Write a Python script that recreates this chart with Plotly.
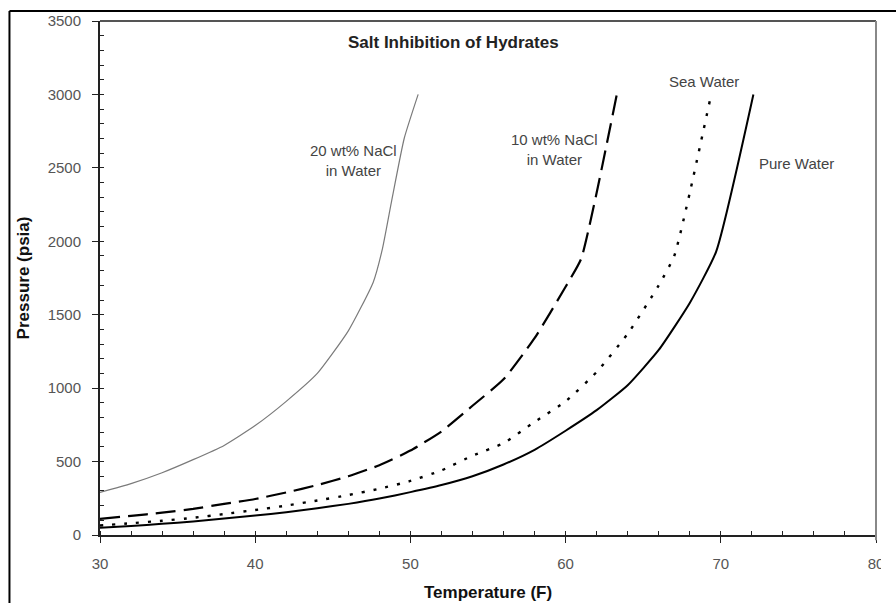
import plotly.graph_objects as go

# ---- data ----
pure_T = [30, 32, 34, 36, 38, 40, 42, 44, 46, 48, 50, 52, 54, 56, 58, 60, 62, 64, 66, 68, 69.7, 72.1]
pure_P = [50, 62, 76, 92, 112, 132, 155, 182, 212, 248, 292, 340, 400, 480, 580, 710, 850, 1020, 1260, 1580, 1930, 3000]

sea_T = [30, 32, 34, 36, 38, 40, 42, 44, 46, 48, 50, 52, 54, 56, 58, 60, 62, 64, 66, 67, 68, 69.3]
sea_P = [65, 80, 97, 117, 143, 170, 200, 235, 272, 315, 368, 440, 540, 625, 770, 910, 1110, 1370, 1700, 1900, 2330, 2960]

n10_T = [30, 32, 34, 36, 38, 40, 42, 44, 46, 48, 50, 52, 54, 56, 58, 60, 61, 62, 63.3]
n10_P = [110, 130, 152, 178, 212, 245, 290, 340, 400, 475, 575, 705, 880, 1060, 1340, 1690, 1880, 2330, 3000]

n20_T = [30, 32, 34, 36, 38, 40, 42, 44, 46, 47.6, 48.2, 48.8, 49.6, 50.5]
n20_P = [290, 350, 424, 513, 610, 745, 910, 1100, 1390, 1720, 1950, 2280, 2700, 3000]

x_ticks = [30, 40, 50, 60, 70, 80]
y_ticks = [0, 500, 1000, 1500, 2000, 2500, 3000, 3500]

FONT = "Liberation Sans, Arial, sans-serif"

fig = go.Figure()
fig.add_trace(go.Scatter(x=n20_T, y=n20_P, mode="lines", name="20 wt% NaCl",
                         line=dict(color="#7a7a7a", width=1.2, shape="spline", smoothing=0.5)))
fig.add_trace(go.Scatter(x=n10_T, y=n10_P, mode="lines", name="10 wt% NaCl",
                         line=dict(color="black", width=2.2, dash="20px,8px", shape="spline", smoothing=0.5)))
fig.add_trace(go.Scatter(x=sea_T, y=sea_P, mode="lines", name="Sea Water",
                         line=dict(color="black", width=2.4, dash="3px,9px", shape="spline", smoothing=0.5)))
fig.add_trace(go.Scatter(x=pure_T, y=pure_P, mode="lines", name="Pure Water",
                         line=dict(color="black", width=2, shape="spline", smoothing=0.5)))

def px_x(p):
    return (p - 100) / 780.0

def px_y(p):
    return (535 - p) / 514.0

ann_font = dict(family=FONT, size=15, color="#444")
annotations = [
    dict(text="<b>Salt Inhibition of Hydrates</b>", x=px_x(455), y=px_y(43),
         font=dict(family=FONT, size=17, color="#222")),
    dict(text="20 wt% NaCl<br>in Water", x=px_x(355), y=px_y(160), font=ann_font),
    dict(text="10 wt% NaCl<br>in Water", x=px_x(557), y=px_y(149), font=ann_font),
    dict(text="Sea Water", x=px_x(707), y=px_y(81), font=ann_font),
    dict(text="Pure Water", x=px_x(800), y=px_y(163), font=ann_font),
    dict(text="<b>Temperature (F)</b>", x=px_x(490), y=px_y(592),
         font=dict(family=FONT, size=17, color="#111")),
    dict(text="<b>Pressure (psia)</b>", x=px_x(23), y=px_y(278), textangle=-90,
         font=dict(family=FONT, size=17, color="#111")),
]
for a in annotations:
    a.update(xref="paper", yref="paper", showarrow=False, xanchor="center", yanchor="middle")

shapes = [
    # plot frame top and right (gray)
    dict(type="line", xref="paper", yref="paper", x0=0, x1=1, y0=1, y1=1,
         line=dict(color="#555", width=2)),
    dict(type="line", xref="paper", yref="paper", x0=1, x1=1, y0=-0.01, y1=1,
         line=dict(color="#888", width=2)),
    # outer chart border (cropped)
    dict(type="line", xref="paper", yref="paper", x0=px_x(9), x1=px_x(905), y0=px_y(11), y1=px_y(11),
         line=dict(color="black", width=2)),
    dict(type="line", xref="paper", yref="paper", x0=px_x(9), x1=px_x(9), y0=px_y(11), y1=px_y(610),
         line=dict(color="black", width=2)),
    # cropped right edge of the picture
    dict(type="rect", xref="paper", yref="paper", x0=px_x(885), x1=px_x(900), y0=px_y(545), y1=px_y(580),
         fillcolor="white", line=dict(width=0), layer="above"),
]

fig.update_layout(
    width=896, height=603,
    margin=dict(l=100, r=16, t=21, b=68),
    paper_bgcolor="white", plot_bgcolor="white",
    showlegend=False,
    font=dict(family=FONT, size=15, color="#555"),
    annotations=annotations,
    shapes=shapes,
)
fig.update_xaxes(range=[30, 80], tickvals=x_ticks, ticktext=[str(v) for v in x_ticks],
                 showgrid=False, zeroline=False, showline=True, linecolor="#222", linewidth=2,
                 ticks="outside", ticklen=6, tickcolor="#222", tickwidth=1,
                 minor=dict(dtick=2, ticks="inside", ticklen=4, tickcolor="#222"),
                 tickfont=dict(family=FONT, size=15, color="#555"), ticklabelstandoff=8)
fig.update_yaxes(range=[0, 3500], tickvals=y_ticks, ticktext=[str(v) for v in y_ticks],
                 showgrid=False, zeroline=False, showline=True, linecolor="#222", linewidth=2,
                 ticks="outside", ticklen=6, tickcolor="#222", tickwidth=1,
                 minor=dict(dtick=100, ticks="inside", ticklen=4, tickcolor="#222"),
                 tickfont=dict(family=FONT, size=15, color="#555"), ticklabelstandoff=8)

fig.write_html("out.html")
